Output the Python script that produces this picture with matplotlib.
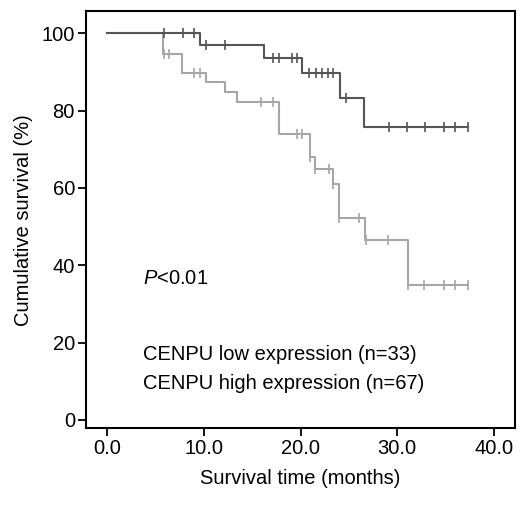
import numpy as np
import matplotlib
matplotlib.use("Agg")
import matplotlib.pyplot as plt

plt.rcParams["font.family"] = ["Liberation Sans", "DejaVu Sans"]
plt.rcParams["mathtext.fontset"] = "custom"
plt.rcParams["mathtext.rm"] = "Liberation Sans"
plt.rcParams["mathtext.it"] = "Liberation Sans:italic"

# CENPU low expression (n=33): event times and survival after each step
low_times = [0, 9.6, 16.2, 20.2, 24.1, 26.6]
low_surv = [100, 96.97, 93.6, 89.8, 83.3, 75.8]
low_censor = [5.9, 7.8, 9.0, 10.2, 12.2, 17.1, 17.8, 19.1, 19.6, 20.9, 21.6,
              22.2, 22.8, 23.4, 24.7, 29.2, 31.0, 32.9, 34.8, 36.0, 37.3]

# CENPU high expression (n=67)
high_times = [0, 5.8, 7.7, 10.2, 12.2, 13.4, 17.8, 21.0, 21.5, 23.4, 24.0, 26.7, 31.1]
high_surv = [100, 94.7, 89.8, 87.4, 84.8, 82.3, 74.0, 68.0, 64.9, 61.0, 52.2, 46.5, 34.8]
high_censor = [5.9, 6.4, 9.0, 9.6, 15.9, 17.1, 19.6, 20.2, 21.0, 21.5, 22.9, 23.4,
               24.0, 26.0, 26.8, 29.1, 31.1, 32.8, 34.8, 36.0, 37.3]

x_ticks = [0, 10, 20, 30, 40]
x_labels = ["0.0", "10.0", "20.0", "30.0", "40.0"]
y_ticks = [0, 20, 40, 60, 80, 100]

FS = 14.5


def km_curve(ax, times, surv, censor, color):
    end = max(censor)
    xs = list(times) + [end]
    ys = list(surv) + [surv[-1]]
    ax.step(xs, ys, where="post", color=color, lw=1.5, zorder=3)
    idx = np.searchsorted(times, censor, side="right") - 1
    cy = np.array(surv)[idx]
    ax.plot(censor, cy, ls="none", marker="|", ms=6.5, mew=1.2, color=color, zorder=4)


fig = plt.figure(figsize=(5.25, 5.09), dpi=100)
ax = fig.add_axes([0.164, 0.159, 0.817, 0.819])

km_curve(ax, high_times, high_surv, high_censor, "#a6a6a6")
km_curve(ax, low_times, low_surv, low_censor, "#555555")

ax.set_xlim(-2.2, 42.2)
ax.set_ylim(-2.1, 105.7)
ax.set_xticks(x_ticks)
ax.set_xticklabels(x_labels)
ax.set_yticks(y_ticks)
ax.tick_params(direction="out", length=6, width=1.3, labelsize=FS, colors="black", pad=2)
for s in ax.spines.values():
    s.set_linewidth(1.5)

ax.set_xlabel("Survival time (months)", fontsize=FS, labelpad=8)
ax.set_ylabel("Cumulative survival (%)", fontsize=FS, labelpad=6)

ax.text(3.7, 36.5, "$P$<0.01", fontsize=FS, va="center", ha="left")
ax.text(3.7, 17.0, "CENPU low expression (n=33)", fontsize=FS, va="center", ha="left")
ax.text(3.7, 9.3, "CENPU high expression (n=67)", fontsize=FS, va="center", ha="left")

fig.savefig("out.png", dpi=100)
